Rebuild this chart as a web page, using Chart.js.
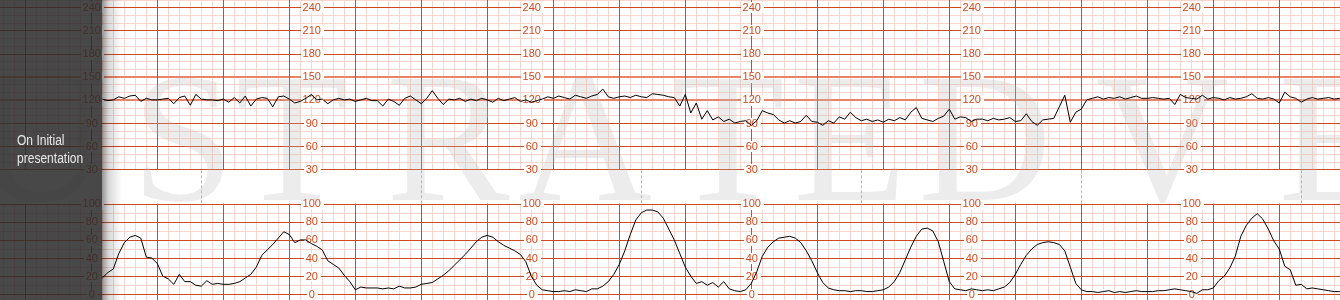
<!DOCTYPE html>
<html>
<head>
<meta charset="utf-8">
<script src="https://cdn.jsdelivr.net/npm/chart.js@4.4.1/dist/chart.umd.min.js"></script>
<style>
  html, body { margin: 0; padding: 0; background: #fff; }
  #wrap { position: relative; width: 1340px; height: 300px; }
</style>
</head>
<body>
<div id="wrap"><canvas id="ctg"></canvas></div>
<script>
// x is measured in small squares of the strip, samples every half square
const sampleStart = 9;
const sampleStep = 0.5;

// fetal heart rate, bpm
const fhr = [
  121, 119, 120, 124, 122, 125, 126, 118, 122, 120,
  120, 121, 122, 115, 123, 125, 113, 127, 121, 120,
  120, 119, 121, 117, 123, 116, 125, 112, 121, 123,
  122, 111, 124, 125, 121, 116, 118, 122, 127, 120,
  121, 115, 120, 122, 120, 121, 118, 120, 122, 119,
  119, 112, 121, 118, 113, 122, 125, 120, 115, 122,
  132, 122, 114, 121, 120, 122, 118, 121, 119, 122,
  120, 117, 122, 119, 121, 123, 118, 120, 117, 119,
  121, 124, 122, 125, 123, 121, 126, 124, 122, 125,
  127, 134, 124, 122, 124, 125, 123, 126, 124, 123,
  128, 127, 126, 124, 123, 112, 127, 103, 116, 95,
  106, 94, 98, 92, 95, 90, 92, 93, 87, 93,
  106, 103, 101, 94, 90, 93, 90, 92, 100, 92,
  91, 87, 93, 90, 98, 95, 104, 97, 93, 95,
  92, 94, 91, 95, 93, 97, 94, 104, 110, 96,
  94, 92, 96, 99, 108, 95, 98, 97, 92, 95,
  95, 93, 96, 94, 95, 97, 92, 93, 102, 92,
  87, 94, 95, 96, 111, 126, 91, 104, 108, 120,
  122, 124, 121, 123, 122, 124, 121, 123, 125, 122,
  122, 123, 122, 121, 122, 114, 127, 123, 122, 121,
  126, 121, 123, 122, 120, 123, 121, 122, 124, 128,
  122, 121, 123, 121, 116, 130, 124, 122, 117, 121,
  123, 121, 122, 123, 121, 122
];

// uterine activity
const uc = [
  18, 24, 28, 45, 57, 63, 65, 62, 41, 40,
  34, 20, 17, 11, 22, 14, 14, 10, 9, 15,
  11, 12, 11, 11, 12, 14, 18, 22, 30, 43,
  49, 55, 62, 69, 66, 57, 60, 60, 56, 53,
  49, 37, 33, 29, 21, 14, 5, 8, 7, 7,
  7, 6, 7, 6, 9, 7, 7, 8, 11, 12,
  13, 17, 21, 26, 32, 38, 44, 51, 58, 63,
  65, 63, 58, 54, 51, 48, 44, 36, 20, 10,
  5, 4, 3, 3, 4, 3, 5, 4, 3, 6,
  6, 9, 14, 22, 33, 48, 66, 82, 90, 93,
  93, 91, 84, 72, 60, 45, 30, 20, 12, 14,
  10, 13, 8, 14, 6, 4, 3, 5, 12, 25,
  42, 52, 58, 62, 63, 64, 62, 57, 48, 37,
  24, 13, 7, 5, 4, 4, 3, 4, 4, 3,
  3, 4, 5, 8, 14, 24, 38, 52, 64, 72,
  73, 70, 58, 36, 14, 6, 5, 4, 6, 5,
  4, 5, 4, 6, 8, 13, 22, 33, 43, 50,
  55, 57, 58, 57, 55, 48, 30, 12, 5, 3,
  3, 2, 3, 4, 2, 3, 2, 3, 4, 3,
  3, 3, 4, 4, 5, 6, 5, 4, 3, 1,
  5, 5, 7, 15, 20, 29, 42, 64, 76, 84,
  89, 83, 72, 59, 50, 31, 27, 10, 11, 6,
  7, 6, 5, 4, 3, 3
];

const fhrTicks = [30, 60, 90, 120, 150, 180, 210, 240];
const ucTicks = [0, 20, 40, 60, 80, 100];
const labelColumns = [8, 28, 48, 68, 88, 108];
const markerColumns = [18, 38, 58, 78, 98, 118];
const panelText = ['On Initial', 'presentation'];
const watermarkText = 'USTRATED VE';

const MINOR = '#f8d6cd';
const MAJOR = '#cf4a1f';
const BAND = '#ea8468';
const LABEL = '#d6461a';

const paper = {
  id: 'paper',
  beforeDatasetsDraw(chart) {
    const { ctx, chartArea: a, scales: { x, yF, yU } } = chart;
    const topEnd = yF.getPixelForValue(30);
    const botStart = yU.getPixelForValue(100);
    const snap = p => Math.round(p) + 0.5;
    const vLine = (v, y0, y1) => {
      const p = snap(x.getPixelForValue(v));
      ctx.beginPath(); ctx.moveTo(p, y0); ctx.lineTo(p, y1); ctx.stroke();
    };
    const hLine = (p) => {
      p = snap(p);
      ctx.beginPath(); ctx.moveTo(a.left, p); ctx.lineTo(a.right, p); ctx.stroke();
    };

    ctx.save();
    ctx.fillStyle = '#fff';
    ctx.fillRect(a.left, a.top, a.width, a.height);

    // small squares
    ctx.lineWidth = 1;
    ctx.strokeStyle = MINOR;
    for (let v = 0; v <= 122; v++) {
      if ((v - 2) % 6 === 0) continue;
      vLine(v, a.top, topEnd);
      vLine(v, botStart, a.bottom);
    }
    for (let b = 30; b <= 250; b += 10) if (b % 30) hLine(yF.getPixelForValue(b));
    for (let u = 0; u <= 100; u += 10) if (u % 20) hLine(yU.getPixelForValue(u));

    // normal range band lines
    ctx.strokeStyle = BAND;
    ctx.lineWidth = 2;
    [120, 150].forEach(b => {
      const p = Math.round(yF.getPixelForValue(b));
      ctx.beginPath(); ctx.moveTo(a.left, p); ctx.lineTo(a.right, p); ctx.stroke();
    });

    // big squares
    ctx.lineWidth = 1;
    ctx.strokeStyle = MAJOR;
    for (let v = 2; v <= 122; v += 6) {
      vLine(v, a.top, topEnd);
      vLine(v, botStart, a.bottom);
    }
    fhrTicks.forEach(b => { if (b !== 120 && b !== 150) hLine(yF.getPixelForValue(b)); });
    ucTicks.forEach(u => hLine(yU.getPixelForValue(u)));

    // minute markers across the gap
    ctx.strokeStyle = '#e2a595';
    ctx.setLineDash([3, 2]);
    markerColumns.forEach(v => vLine(v, topEnd + 1, botStart));
    ctx.setLineDash([]);

    // scale numbers
    ctx.font = '11px "Liberation Sans", Arial, sans-serif';
    ctx.textAlign = 'center';
    ctx.textBaseline = 'middle';
    const label = (cx, cy, txt) => {
      const w = ctx.measureText(txt).width;
      ctx.fillStyle = '#fff';
      ctx.fillRect(Math.round(cx - w / 2 - 2), Math.round(cy - 5), Math.ceil(w + 4), 11);
      ctx.fillStyle = LABEL;
      ctx.fillText(txt, cx, cy + 0.5);
    };
    labelColumns.forEach(c => {
      const cx = x.getPixelForValue(c) + 0.5;
      fhrTicks.forEach(b => label(cx, yF.getPixelForValue(b), String(b)));
      ucTicks.forEach(u => label(cx, yU.getPixelForValue(u), String(u)));
    });

    // watermark
    ctx.font = '185px "Liberation Serif", "DejaVu Serif", serif';
    ctx.fillStyle = 'rgba(185,185,185,0.27)';
    ctx.textBaseline = 'alphabetic';
    const centres = [40, 183, 292, 448, 585, 728, 850, 985, null, 1162, 1335];
    watermarkText.split('').forEach((ch, i) => {
      if (centres[i] != null) ctx.fillText(ch, centres[i], 200);
    });

    // dark side panel
    ctx.fillStyle = 'rgba(42,42,42,0.86)';
    ctx.fillRect(0, 0, 102, a.bottom);
    const g = ctx.createLinearGradient(102, 0, 122, 0);
    g.addColorStop(0, 'rgba(0,0,0,0.42)');
    g.addColorStop(0.35, 'rgba(0,0,0,0.15)');
    g.addColorStop(1, 'rgba(0,0,0,0)');
    ctx.fillStyle = g;
    ctx.fillRect(102, 0, 20, a.bottom);

    ctx.save();
    ctx.translate(17, 0);
    ctx.scale(0.86, 1);
    ctx.font = '14px "Liberation Sans", Arial, sans-serif';
    ctx.textAlign = 'left';
    ctx.fillStyle = '#e8e8e8';
    ctx.fillText(panelText[0], 0, 145);
    ctx.fillText(panelText[1], 0, 163);
    ctx.restore();

    ctx.restore();
  }
};

const points = arr => arr.map((y, i) => ({ x: sampleStart + i * sampleStep, y }));

new Chart(document.getElementById('ctg'), {
  type: 'line',
  data: {
    datasets: [
      { label: 'FHR', data: points(fhr), yAxisID: 'yF', borderColor: '#000', borderWidth: 1, pointRadius: 0, tension: 0 },
      { label: 'UC', data: points(uc), yAxisID: 'yU', borderColor: '#000', borderWidth: 1, pointRadius: 0, tension: 0 }
    ]
  },
  options: {
    responsive: true,
    maintainAspectRatio: false,
    animation: false,
    layout: { padding: 0 },
    plugins: { legend: { display: false }, tooltip: { enabled: false } },
    scales: {
      x: { type: 'linear', display: false, min: -0.3, max: 121.52 },
      yF: { type: 'linear', display: false, min: -139.4, max: 249.46 },
      yU: { type: 'linear', display: false, min: -6.29, max: 324.8 }
    }
  },
  plugins: [paper]
});
</script>
</body>
</html>
